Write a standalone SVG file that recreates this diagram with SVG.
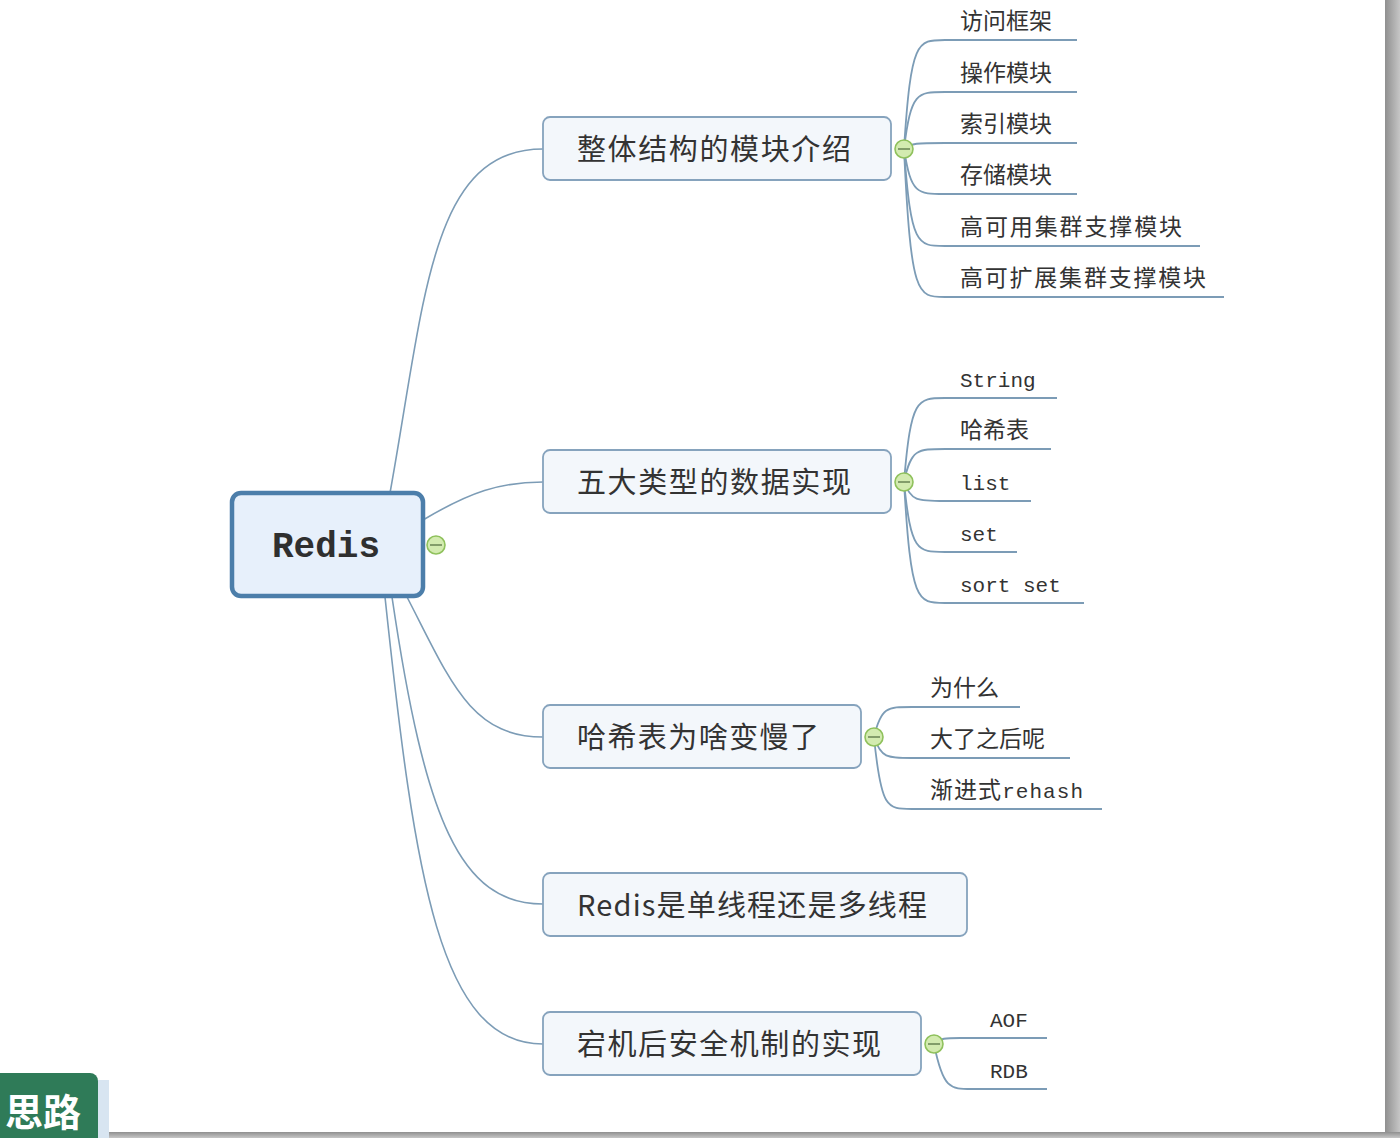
<svg xmlns="http://www.w3.org/2000/svg" width="1400" height="1138" viewBox="0 0 1400 1138">
<style>
.conn{fill:none;stroke:#7c9cb6;stroke-width:1.6}
.leafline{fill:none;stroke:#7c9cb6;stroke-width:1.8}
.branch{fill:#f3f7fb;stroke:#86a3bd;stroke-width:1.8}
.btxt{font-family:"Noto Sans CJK SC","Liberation Mono",sans-serif;font-size:29px;fill:#333}
.ltxt{font-family:"Noto Sans CJK SC",sans-serif;font-size:23px;fill:#333}
.atxt{font-family:"Liberation Mono","Noto Sans CJK SC",monospace;font-size:21px;fill:#333}
.tog circle{fill:#d3ebb0;stroke:#8fc15c;stroke-width:1.6}
.tog line{stroke:#6f8a58;stroke-width:1.6}
</style>
<defs>
<linearGradient id="gr" x1="0" y1="0" x2="1" y2="0"><stop offset="0" stop-color="#8f8f8f"/><stop offset="1" stop-color="#c6c6c6"/></linearGradient>
<linearGradient id="gb" x1="0" y1="0" x2="0" y2="1"><stop offset="0" stop-color="#8f8f8f"/><stop offset="1" stop-color="#c6c6c6"/></linearGradient>
</defs>
<rect width="1400" height="1138" fill="#ffffff"/>
<g id="connectors">
<path class="conn" d="M390 493 C425 300,430 149,543 149"/>
<path class="conn" d="M423 520 C470 492,500 482,543 482"/>
<path class="conn" d="M407 597 C450 680,470 737,543 737"/>
<path class="conn" d="M392 597 C425 820,460 904,543 904"/>
<path class="conn" d="M385 597 C415 880,440 1044,543 1044"/>
<path class="leafline" d="M904 149 C911 40,917 40,945 40 H1077"/>
<path class="leafline" d="M904 149 C911 92,917 92,945 92 H1077"/>
<path class="leafline" d="M904 149 C911 143,917 143,945 143 H1077"/>
<path class="leafline" d="M904 149 C911 194,917 194,945 194 H1077"/>
<path class="leafline" d="M904 149 C911 246,917 246,945 246 H1200"/>
<path class="leafline" d="M904 149 C911 297,917 297,945 297 H1224"/>
<path class="leafline" d="M904 482 C911 398,917 398,945 398 H1057"/>
<path class="leafline" d="M904 482 C911 449,917 449,945 449 H1051"/>
<path class="leafline" d="M904 482 C911 501,917 501,945 501 H1031"/>
<path class="leafline" d="M904 482 C911 552,917 552,945 552 H1017"/>
<path class="leafline" d="M904 482 C911 603,917 603,945 603 H1084"/>
<path class="leafline" d="M874 737 C881 707,887 707,912 707 H1020"/>
<path class="leafline" d="M874 737 C881 758,887 758,912 758 H1070"/>
<path class="leafline" d="M874 737 C881 809,887 809,912 809 H1102"/>
<path class="leafline" d="M934 1044 C940 1038,946 1038,960 1038 H1047"/>
<path class="leafline" d="M934 1044 C943 1089,950 1089,972 1089 H1047"/>
</g>
<g id="redis">
<rect x="232" y="493" width="191" height="103" rx="9" fill="#e7f0fb" stroke="#4c7eaa" stroke-width="4.5"/>
<text x="326" y="557" text-anchor="middle" font-family="Liberation Mono, monospace" font-weight="bold" font-size="36" fill="#2f2f2f">Redis</text>
<g class="tog"><circle cx="436" cy="545" r="9"/><line x1="430" y1="545" x2="442" y2="545"/></g>
</g>
<g id="n1">
<rect class="branch" x="543" y="117" width="348" height="63" rx="7"/>
<text class="btxt" x="577" y="160" textLength="274" lengthAdjust="spacing">整体结构的模块介绍</text>
<g class="tog"><circle cx="904" cy="149" r="9"/><line x1="898" y1="149" x2="910" y2="149"/></g>
</g>
<g id="n2">
<rect class="branch" x="543" y="450" width="348" height="63" rx="7"/>
<text class="btxt" x="577" y="493" textLength="274" lengthAdjust="spacing">五大类型的数据实现</text>
<g class="tog"><circle cx="904" cy="482" r="9"/><line x1="898" y1="482" x2="910" y2="482"/></g>
</g>
<g id="n3">
<rect class="branch" x="543" y="705" width="318" height="63" rx="7"/>
<text class="btxt" x="577" y="748" textLength="242" lengthAdjust="spacing">哈希表为啥变慢了</text>
<g class="tog"><circle cx="874" cy="737" r="9"/><line x1="868" y1="737" x2="880" y2="737"/></g>
</g>
<g id="n4">
<rect class="branch" x="543" y="873" width="424" height="63" rx="7"/>
<text class="btxt" x="577" y="916" textLength="350" lengthAdjust="spacing">Redis是单线程还是多线程</text>
</g>
<g id="n5">
<rect class="branch" x="543" y="1012" width="378" height="63" rx="7"/>
<text class="btxt" x="577" y="1055" textLength="304" lengthAdjust="spacing">宕机后安全机制的实现</text>
<g class="tog"><circle cx="934" cy="1044" r="9"/><line x1="928" y1="1044" x2="940" y2="1044"/></g>
</g>
<g id="leaves1">
<text class="ltxt" x="960" y="29">访问框架</text>
<text class="ltxt" x="960" y="81">操作模块</text>
<text class="ltxt" x="960" y="132">索引模块</text>
<text class="ltxt" x="960" y="183">存储模块</text>
<text class="ltxt" x="960" y="235" textLength="222" lengthAdjust="spacing">高可用集群支撑模块</text>
<text class="ltxt" x="960" y="286" textLength="246" lengthAdjust="spacing">高可扩展集群支撑模块</text>
</g>
<g id="leaves2">
<text class="atxt" x="960" y="387">String</text>
<text class="ltxt" x="960" y="438">哈希表</text>
<text class="atxt" x="960" y="490">list</text>
<text class="atxt" x="960" y="541">set</text>
<text class="atxt" x="960" y="592" xml:space="preserve">sort set</text>
</g>
<g id="leaves3">
<text class="ltxt" x="930" y="696">为什么</text>
<text class="ltxt" x="930" y="747">大了之后呢</text>
<text class="ltxt" x="930" y="798" textLength="153" lengthAdjust="spacing">渐进式<tspan font-family="Liberation Mono, monospace" font-size="21">rehash</tspan></text>
</g>
<g id="leaves5">
<text class="atxt" x="990" y="1027">AOF</text>
<text class="atxt" x="990" y="1078">RDB</text>
</g>
<g id="frame">
<rect x="1385" y="0" width="15" height="1138" fill="url(#gr)"/>
<rect x="108" y="1132" width="1292" height="6" fill="url(#gb)"/>
<rect x="98" y="1080" width="11" height="58" fill="#d8e5f1"/>
<path d="M0 1073 H90 A8 8 0 0 1 98 1081 V1138 H0 Z" fill="#2f7b58"/>
<text x="5" y="1126" font-family="Noto Sans CJK SC, sans-serif" font-weight="bold" font-size="38" fill="#ffffff">思路</text>
</g>
</svg>
